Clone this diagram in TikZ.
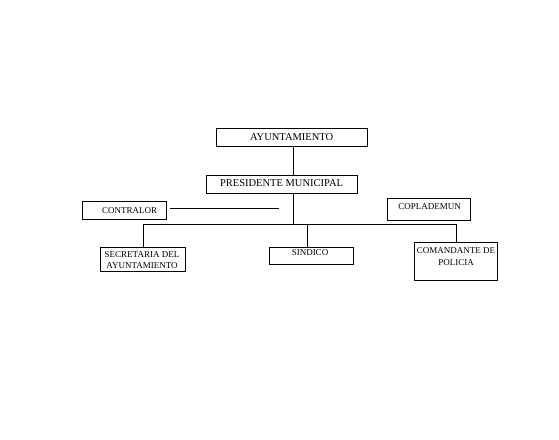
\documentclass[tikz,border=0pt]{standalone}
\usepackage{fontspec}
\setmainfont{Liberation Serif}
\begin{document}
\begin{tikzpicture}[x=1pt,y=-1pt,
  box/.style={draw,line width=0.9pt,inner sep=0pt,anchor=north west},
  bigtxt/.style={font=\fontsize{10.5}{12}\selectfont,inner sep=0pt,anchor=base},
  smalltxt/.style={font=\fontsize{9}{11.5}\selectfont,inner sep=0pt,anchor=base},
  conn/.style={line width=0.9pt}]
\useasboundingbox[fill=white] (0,0) rectangle (559,439);
% boxes
\node[box,minimum width=151pt,minimum height=18pt] (ayunt) at (216,128) {};
\node[box,minimum width=151pt,minimum height=18pt] (pres) at (206,175) {};
\node[box,minimum width=84pt,minimum height=18pt] (contr) at (82,201) {};
\node[box,minimum width=83pt,minimum height=22pt] (copla) at (387,198) {};
\node[box,minimum width=85pt,minimum height=24.5pt] (secre) at (100,246.5) {};
\node[box,minimum width=84pt,minimum height=17.5pt] (sind) at (269,246.5) {};
\node[box,minimum width=83pt,minimum height=38pt] (coman) at (414,242) {};
% texts
\node[bigtxt] (tayunt) at (291.7,140) {AYUNTAMIENTO};
\node[bigtxt] (tpres) at (281.5,186.7) {PRESIDENTE MUNICIPAL};
\node[smalltxt] (tcontr) at (129.7,213) {CONTRALOR};
\node[smalltxt] (tcopla) at (429.7,209) {COPLADEMUN};
\node[smalltxt] (tsecrea) at (142,257) {SECRETARIA DEL};
\node[smalltxt] (tsecreb) at (142,268.5) {AYUNTAMIENTO};
\node[smalltxt] (tsind) at (310,255) {SINDICO};
\node[smalltxt] (tcomana) at (456,253.5) {COMANDANTE DE};
\node[smalltxt] (tcomanb) at (456,265) {POLICIA};
% connector points
\coordinate (j) at (293,224);
\coordinate (sdrop) at (307.3,224);
\coordinate (cend) at (279,208);
% connectors
\draw[conn] (ayunt.south -| j) -- (pres.north -| j);
\draw[conn] (pres.south -| j) -- (j);
\draw[conn] (secre.north) -- (secre.north |- j) -- (coman.north |- j) -- (coman.north);
\draw[conn] (sdrop) -- (sdrop |- sind.north);
\draw[conn] ([xshift=3pt]contr.east |- cend) -- (cend);
\end{tikzpicture}
\end{document}
